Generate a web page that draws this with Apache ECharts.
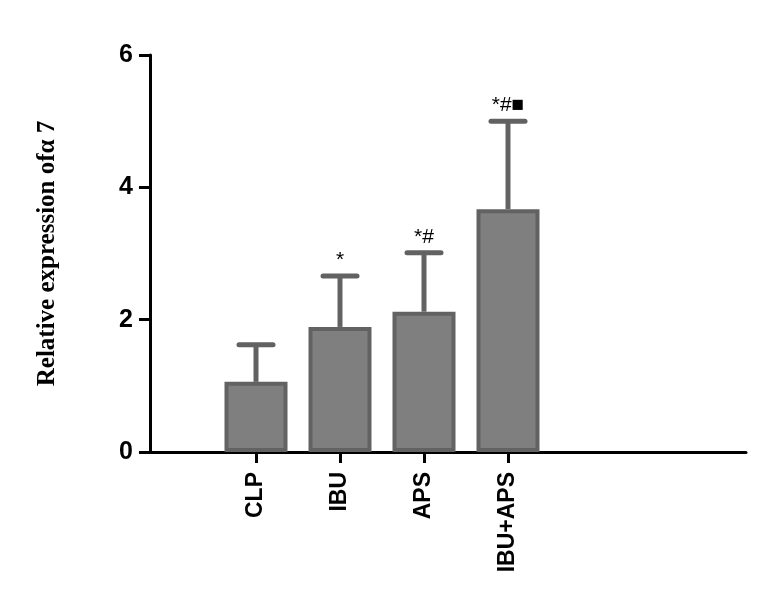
<!DOCTYPE html>
<html>
<head>
<meta charset="utf-8">
<script src="https://cdn.jsdelivr.net/npm/echarts@6/dist/echarts.min.js"></script>
<style>html,body{margin:0;padding:0;background:#fff}#chart{width:780px;height:598px}</style>
</head>
<body>
<div id="chart"></div>
<script>
var categories = ['CLP', 'IBU', 'APS', 'IBU+APS'];
var means = [1.06, 1.89, 2.12, 3.67];
var sds = [0.56, 0.77, 0.89, 1.33];
var marks = ['', '*', '*#', '*#\u25A0'];
var yTicks = [0, 2, 4, 6];

var chart = echarts.init(document.getElementById('chart'));
var barColor = '#7f7f7f', edge = '#626262';
var errData = categories.map(function (c, i) { return [i, means[i], means[i] + sds[i], marks[i]]; });

chart.setOption({
  animation: false,
  grid: [
    { left: 214, right: 230, top: 55, bottom: 146 },
    { left: 150, right: 34, top: 55, bottom: 146 }
  ],
  xAxis: [
    { type: 'category', gridIndex: 0, data: categories,
      axisLine: { show: false },
      axisTick: { show: true, alignWithLabel: true, length: 11, lineStyle: { color: '#000', width: 3 } },
      axisLabel: { rotate: 90, margin: 20, color: '#000', fontFamily: 'Liberation Sans, Arial', fontWeight: 'bold', fontSize: 23 } },
    { type: 'value', gridIndex: 1, min: 0, max: 1,
      axisLine: { show: true, lineStyle: { color: '#000', width: 3 } },
      axisTick: { show: false }, axisLabel: { show: false }, splitLine: { show: false } }
  ],
  yAxis: [
    { type: 'value', gridIndex: 0, min: yTicks[0], max: yTicks[yTicks.length - 1], interval: 2, show: false },
    { type: 'value', gridIndex: 1, min: yTicks[0], max: yTicks[yTicks.length - 1], interval: 2,
      name: 'Relative expression of\u03B1 7', nameLocation: 'middle', nameGap: 90,
      nameTextStyle: { color: '#000', fontFamily: 'Liberation Serif, Times New Roman', fontWeight: 'bold', fontSize: 25 },
      axisLine: { show: true, lineStyle: { color: '#000', width: 3 } },
      axisTick: { show: true, length: 11, lineStyle: { color: '#000', width: 3 } },
      axisLabel: { margin: 17, color: '#000', fontFamily: 'Liberation Sans, Arial', fontWeight: 'bold', fontSize: 25 },
      splitLine: { show: false } }
  ],
  series: [
    { type: 'bar', xAxisIndex: 0, yAxisIndex: 0, data: means, barWidth: 63,
      itemStyle: { color: barColor, borderColor: edge, borderWidth: 4 } },
    { type: 'custom', xAxisIndex: 0, yAxisIndex: 0, data: errData, z: 1,
      renderItem: function (params, api) {
        var top = api.coord([api.value(0), api.value(1)]);
        var hi = api.coord([api.value(0), api.value(2)]);
        var half = 17;
        var children = [
          { type: 'line', shape: { x1: top[0], y1: top[1], x2: hi[0], y2: hi[1] }, style: { stroke: edge, lineWidth: 5 } },
          { type: 'line', shape: { x1: hi[0] - half, y1: hi[1], x2: hi[0] + half, y2: hi[1] }, style: { stroke: edge, lineWidth: 5, lineCap: 'round' } }
        ];
        var t = errData[params.dataIndex][3];
        if (t) {
          children.push({ type: 'text', style: { x: hi[0], y: hi[1] - 5, text: t, align: 'center', verticalAlign: 'bottom',
            fill: '#000', font: '21px Liberation Sans, Arial' } });
        }
        return { type: 'group', children: children };
      } }
  ]
});
</script>
</body>
</html>
